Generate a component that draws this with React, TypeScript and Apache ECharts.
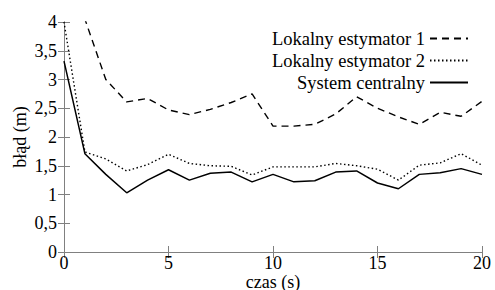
import React, { useEffect, useRef } from "react";
import * as echarts from "echarts";

const xValues = [0, 1, 2, 3, 4, 5, 6, 7, 8, 9, 10, 11, 12, 13, 14, 15, 16, 17, 18, 19, 20];
const estimator1 = [5.5, 4.05, 3.0, 2.61, 2.67, 2.47, 2.39, 2.48, 2.6, 2.75, 2.19, 2.19, 2.22, 2.4, 2.7, 2.5, 2.35, 2.22, 2.43, 2.36, 2.62];
const estimator2 = [4.0, 1.74, 1.62, 1.41, 1.52, 1.7, 1.54, 1.5, 1.49, 1.34, 1.48, 1.48, 1.48, 1.54, 1.5, 1.44, 1.25, 1.51, 1.55, 1.71, 1.51];
const central = [3.32, 1.71, 1.35, 1.03, 1.25, 1.43, 1.25, 1.37, 1.39, 1.22, 1.35, 1.22, 1.24, 1.39, 1.41, 1.2, 1.1, 1.35, 1.38, 1.45, 1.35];
const seriesNames = ["Lokalny estymator 1", "Lokalny estymator 2", "System centralny"];
const xTitle = "czas (s)";
const yTitle = "błąd (m)";

const FONT = "Liberation Serif";
const AXIS_COLOR = "#808080";

export default function App() {
  const ref = useRef<HTMLDivElement>(null);
  useEffect(() => {
    if (!ref.current) return;
    const chart = echarts.init(ref.current, undefined, { renderer: "svg" });
    const pairs = (ys: number[]) => xValues.map((x, i) => [x, ys[i]]);
    const axisLine = { show: true, lineStyle: { color: AXIS_COLOR, width: 1 } };
    const tick = { show: true, inside: true, length: 6, lineStyle: { color: AXIS_COLOR } };
    const label = { color: "#000", fontFamily: FONT, fontSize: 18 };
    chart.setOption({
      animation: false,
      backgroundColor: "#fff",
      textStyle: { fontFamily: FONT, fontSize: 18, color: "#000" },
      grid: { left: 64, right: 13, top: 22, bottom: 38, outerBoundsMode: "none", containLabel: false },
      legend: {
        orient: "vertical",
        right: 21,
        top: 24,
        align: "right",
        itemGap: 3,
        itemWidth: 38,
        itemHeight: 18,
        itemStyle: { opacity: 0 },
        textStyle: { color: "#000", fontFamily: FONT, fontSize: 18.5 },
        data: seriesNames,
      },
      xAxis: [
        {
          type: "value",
          min: 0,
          max: 20,
          interval: 5,
          position: "bottom",
          axisLine,
          axisTick: tick,
          splitLine: { show: false },
          axisLabel: { ...label, margin: 4, lineHeight: 14 },
          name: xTitle,
          nameLocation: "middle",
          nameGap: 23,
          nameMoveOverlap: false,
          nameTextStyle: { ...label, lineHeight: 14 },
        },
        {
          type: "value",
          min: 0,
          max: 20,
          interval: 5,
          position: "top",
          axisLine,
          axisTick: tick,
          splitLine: { show: false },
          axisLabel: { show: false },
        },
      ],
      yAxis: [
        {
          type: "value",
          min: 0,
          max: 4,
          interval: 0.5,
          position: "left",
          axisLine,
          axisTick: tick,
          splitLine: { show: false },
          axisLabel: {
            ...label,
            margin: 7,
            formatter: (v: number) => String(v).replace(".", ","),
          },
          name: yTitle,
          nameLocation: "middle",
          nameGap: 35,
          nameMoveOverlap: false,
          nameTextStyle: { ...label },
        },
        {
          type: "value",
          min: 0,
          max: 4,
          interval: 0.5,
          position: "right",
          axisLine,
          axisTick: tick,
          splitLine: { show: false },
          axisLabel: { show: false },
        },
      ],
      series: [
        {
          name: seriesNames[0],
          type: "line",
          data: pairs(estimator1),
          symbol: "none",
          clip: true,
          lineStyle: { color: "#000", width: 1.4, type: [7, 5] },
          itemStyle: { color: "#000" },
        },
        {
          name: seriesNames[1],
          type: "line",
          data: pairs(estimator2),
          symbol: "none",
          clip: true,
          lineStyle: { color: "#000", width: 1.4, type: [1.5, 2.5] },
          itemStyle: { color: "#000" },
        },
        {
          name: seriesNames[2],
          type: "line",
          data: pairs(central),
          symbol: "none",
          clip: true,
          lineStyle: { color: "#000", width: 1.5, type: "solid" },
          itemStyle: { color: "#000" },
        },
      ],
    });
    return () => chart.dispose();
  }, []);
  return <div ref={ref} style={{ width: 495, height: 290, position: "absolute", left: 0, top: 0 }} />;
}
